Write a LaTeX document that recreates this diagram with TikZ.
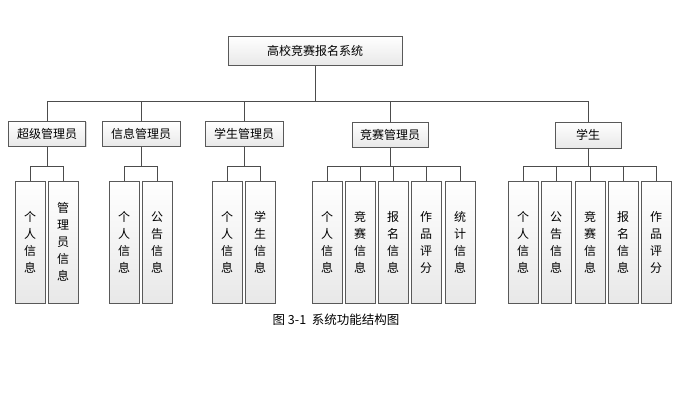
\documentclass[tikz,border=0pt]{standalone}
\usepackage{fontspec}
\setmainfont{Noto Sans CJK SC}
\usetikzlibrary{shadows}
\tikzset{
  box/.style={draw=gray!70!black, top color=white, bottom color=gray!18, drop shadow={shadow xshift=1pt, shadow yshift=-1pt, opacity=0.3}, font=\fontsize{12}{12}\selectfont, inner sep=0pt},
  leaf/.style={box, minimum width=30, minimum height=122, align=center, font=\fontsize{12}{17}\selectfont},
  link/.style={draw=gray!60!black, thick}
}
\begin{document}
\begin{tikzpicture}[x=1pt,y=-1pt]
    \useasboundingbox (0,0) rectangle (689,409);

    % Root
    \node[box, minimum width=174, minimum height=29] (root) at (315,51) {高校竞赛报名系统};

    % Second level
    \node[box, minimum width=77, minimum height=25] (sup) at (47,134) {超级管理员};
    \node[box, minimum width=78, minimum height=25] (info) at (141,134) {信息管理员};
    \node[box, minimum width=78, minimum height=25] (stm) at (244,134) {学生管理员};
    \node[box, minimum width=76, minimum height=25] (comp) at (390,135) {竞赛管理员};
    \node[box, minimum width=66, minimum height=26] (stu) at (588,135) {学生};

    % Root to second level
    \draw[link] (root.south) -- (315,101);
    \draw[link] (47,101) -- (588,101);
    \foreach \n in {sup,info,stm,comp,stu}
        \draw[link] (\n.north) -- (\n.north |- 0,101);

    % Leaves
    \node[leaf] (s1) at (30,242) {个\\人\\信\\息};
    \node[leaf] (s2) at (63,242) {管\\理\\员\\信\\息};
    \node[leaf] (i1) at (124,242) {个\\人\\信\\息};
    \node[leaf] (i2) at (157,242) {公\\告\\信\\息};
    \node[leaf] (t1) at (227,242) {个\\人\\信\\息};
    \node[leaf] (t2) at (260,242) {学\\生\\信\\息};
    \node[leaf] (c1) at (327,242) {个\\人\\信\\息};
    \node[leaf] (c2) at (360,242) {竞\\赛\\信\\息};
    \node[leaf] (c3) at (393,242) {报\\名\\信\\息};
    \node[leaf] (c4) at (426,242) {作\\品\\评\\分};
    \node[leaf] (c5) at (460,242) {统\\计\\信\\息};
    \node[leaf] (u1) at (523,242) {个\\人\\信\\息};
    \node[leaf] (u2) at (556,242) {公\\告\\信\\息};
    \node[leaf] (u3) at (590,242) {竞\\赛\\信\\息};
    \node[leaf] (u4) at (623,242) {报\\名\\信\\息};
    \node[leaf] (u5) at (656,242) {作\\品\\评\\分};

    % Second level to leaves
    \foreach \p/\a/\b/\kids in {sup/s1/s2/{s1,s2}, info/i1/i2/{i1,i2}, stm/t1/t2/{t1,t2},
                                comp/c1/c5/{c1,c2,c3,c4,c5}, stu/u1/u5/{u1,u2,u3,u4,u5}} {
        \draw[link] (\p.south) -- (\p.south |- 0,166);
        \draw[link] (\a.north |- 0,166) -- (\b.north |- 0,166);
        \foreach \k in \kids
            \draw[link] (\k.north) -- (\k.north |- 0,166);
    }

    % Caption
    \node[font=\fontsize{12.5}{12.5}\selectfont] (cap) at (336,320) {图 3-1\ \ 系统功能结构图};
\end{tikzpicture}
\end{document}
